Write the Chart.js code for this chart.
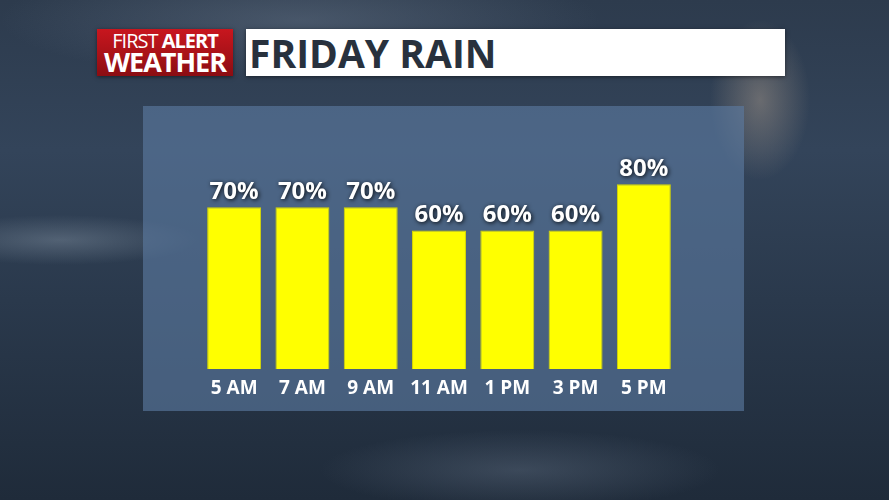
<!DOCTYPE html>
<html>
<head>
<meta charset="utf-8">
<script src="https://cdn.jsdelivr.net/npm/chart.js@4.4.1/dist/chart.umd.min.js"></script>
<style>
  html, body { margin: 0; padding: 0; }
  body {
    width: 889px; height: 500px; overflow: hidden; position: relative;
    font-family: "Open Sans", sans-serif;
    background:
      radial-gradient(ellipse 50px 80px at 760px 100px, rgba(190,170,150,0.4), rgba(0,0,0,0) 100%),
      radial-gradient(ellipse 140px 25px at 60px 240px, rgba(150,165,180,0.35), rgba(0,0,0,0) 100%),
      radial-gradient(ellipse 200px 40px at 520px 470px, rgba(110,125,145,0.35), rgba(0,0,0,0) 100%),
      radial-gradient(ellipse 300px 60px at 300px 20px, rgba(120,135,155,0.35), rgba(0,0,0,0) 100%),
      linear-gradient(180deg, #2d3b4d 0%, #33445a 30%, #2a394c 60%, #1f2b3a 100%);
  }
  #panel {
    position: absolute; left: 143px; top: 106px; width: 601px; height: 305px;
    background: rgba(92, 122, 162, 0.62);
  }
  #logo {
    position: absolute; left: 97px; top: 29px; width: 136px; height: 47px;
    background: linear-gradient(180deg, #c8161e 0%, #a81218 55%, #8a0d12 100%);
    color: #fff; text-align: center; box-shadow: 0 1px 4px rgba(0,0,0,0.5);
  }
  #logo .l1 { font-size: 20px; line-height: 20px; padding-top: 2px; letter-spacing: -1px; }
  #logo .l2 { font-size: 27px; line-height: 22px; font-weight: 700; letter-spacing: -1px; }
  #title {
    position: absolute; left: 246px; top: 29px; width: 539px; height: 47px;
    background: #fff; color: #28313d; box-shadow: 0 1px 4px rgba(0,0,0,0.5);
    font-size: 39px; font-weight: 700; line-height: 47px; padding-left: 3px; box-sizing: border-box;
  }
  #chart { position: absolute; left: 0; top: 0; }
</style>
</head>
<body>
<div id="panel"></div>
<div id="logo"><div class="l1">FIRST <b>ALERT</b></div><div class="l2">WEATHER</div></div>
<div id="title">FRIDAY RAIN</div>
<canvas id="chart" width="889" height="500"></canvas>
<script>
// Friday rain chance by hour
const hours = ['5 AM', '7 AM', '9 AM', '11 AM', '1 PM', '3 PM', '5 PM'];
const rainChance = [70, 70, 70, 60, 60, 60, 80];

// draws "70%" above each bar
const valueLabels = {
    id: 'valueLabels',
    afterDatasetsDraw(chart) {
        const ctx = chart.ctx;
        const meta = chart.getDatasetMeta(0);
        ctx.save();
        ctx.font = 'bold 24px "Open Sans", sans-serif';
        ctx.textAlign = 'center';
        ctx.textBaseline = 'bottom';
        ctx.fillStyle = '#ffffff';
        ctx.shadowColor = 'rgba(0,0,0,0.9)';
        ctx.shadowBlur = 4;
        ctx.shadowOffsetX = 1;
        ctx.shadowOffsetY = 1;
        meta.data.forEach((bar, i) => {
            ctx.fillText(rainChance[i] + '%', bar.x, bar.y - 3);
        });
        ctx.restore();
    }
};

const rainChartCtx = document.getElementById('chart').getContext('2d');
const rainChart = new Chart(rainChartCtx, {
    type: 'bar',
    data: {
        labels: hours,
        datasets: [{
            data: rainChance,
            backgroundColor: '#ffff00',
            borderColor: '#d8d800',
            borderWidth: 1,
            barPercentage: 0.79,
            categoryPercentage: 1
        }]
    },
    options: {
        responsive: false,
        animation: false,
        layout: { padding: { left: 200, right: 211, top: 138, bottom: 100 } },
        plugins: { legend: { display: false }, tooltip: { enabled: false } },
        scales: {
            x: {
                grid: { display: false },
                border: { display: false },
                ticks: {
                    color: '#ffffff',
                    font: { family: 'Open Sans', size: 19, weight: 'bold' },
                    padding: 0,
                    maxRotation: 0
                }
            },
            y: {
                display: false,
                min: 0,
                max: 100
            }
        }
    },
    plugins: [valueLabels]
});
</script>
</body>
</html>
